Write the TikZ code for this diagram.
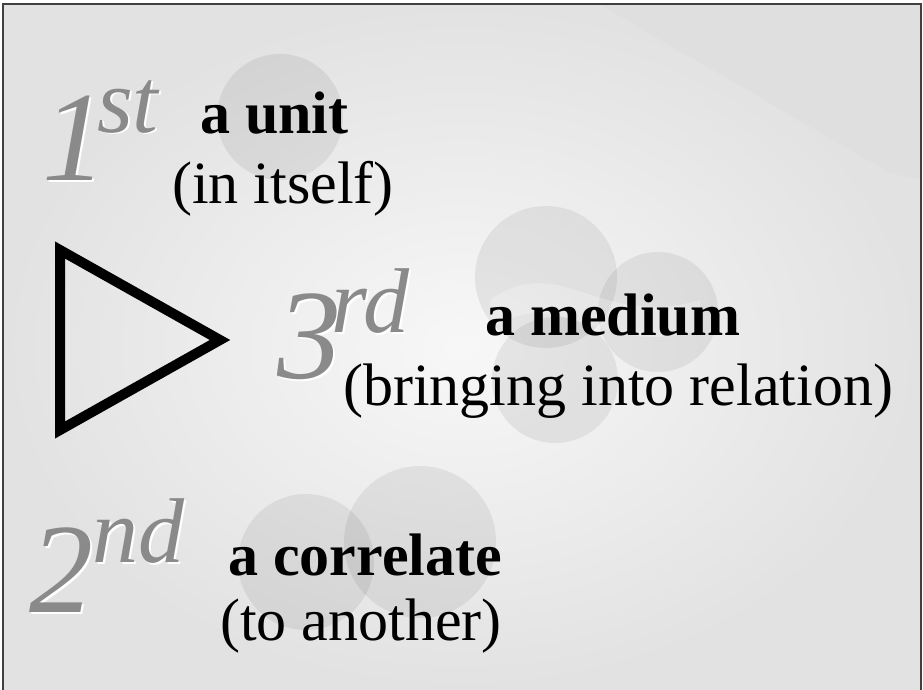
\documentclass[tikz,border=0pt]{standalone}
\usepackage{fontspec}
\setmainfont{Liberation Serif}
\usetikzlibrary{positioning}

\definecolor{ordgray}{HTML}{8A8A8A}
\definecolor{bgedge}{HTML}{E2E2E2}

\begin{document}
\begin{tikzpicture}[x=1pt, y=-1pt,
    ordnum/.style={font=\fontsize{128}{128}\selectfont\itshape, text=ordgray, anchor=base west, inner sep=0pt},
    ordsup/.style={font=\fontsize{92}{92}\selectfont\itshape, text=ordgray, anchor=base west, inner sep=0pt},
    ordglow/.style={text=white},
    headword/.style={font=\fontsize{60}{60}\selectfont\bfseries, anchor=base west, inner sep=0pt},
    gloss/.style={font=\fontsize{60}{60}\selectfont, anchor=base west, inner sep=0pt},
    blob/.style={fill=black, fill opacity=0.065}]
    \useasboundingbox (0,0) rectangle (923,690);

    % background
    \shade[inner color=white!97!black, outer color=bgedge] (3,4) rectangle (921,690);
    \fill[black, fill opacity=0.012] (600,4) -- (921,4) -- (921,180) -- (890,173) -- (643,30) -- cycle;
    \draw[line width=1.5pt, black!75] (3,690) -- (3,4) -- (921,4) -- (921,690);

    % faint discs
    \fill[blob] (280,117) circle (63);
    \fill[blob] (546,277) circle (71);
    \fill[blob] (658,312) circle (60);
    \fill[blob] (555,380) circle (63);
    \fill[white, fill opacity=0.25] (490,300) .. controls (560,250) and (600,330) .. (700,300)
        -- (700,330) .. controls (600,360) and (560,280) .. (490,330) -- cycle;
    \fill[blob] (420,542) circle (76);
    \fill[blob] (306,562) circle (68);

    % triangle
    \draw[line width=10pt, miter limit=10] (60,250) -- (220,340) -- (60,430) -- cycle;

    % 1st
    \node[ordnum, ordglow] (oneglow) at (44,182) {1};
    \node[ordnum] (one) at (42,180) {1};
    \node[ordsup, ordglow] (stglow) at (99,134) {st};
    \node[ordsup] (st) at (97,132) {st};
    \node[headword] (unit) at (200,133) {a unit};
    \node[gloss] (unitnote) at (172,203) {(in itself)};

    % 3rd
    \node[ordnum, ordglow] (threeglow) at (279,380) {3};
    \node[ordnum] (three) at (277,378) {3};
    \node[ordsup, ordglow] (rdglow) at (333,334) {rd};
    \node[ordsup] (rd) at (331,332) {rd};
    \node[headword] (medium) at (485,335) {a medium};
    \node[gloss] (mediumnote) at (343,405) {(bringing into relation)};

    % 2nd
    \node[ordnum, ordglow] (twoglow) at (31,614) {2};
    \node[ordnum] (two) at (29,612) {2};
    \node[ordsup, ordglow] (ndglow) at (94,564) {nd};
    \node[ordsup] (nd) at (92,562) {nd};
    \node[headword] (correlate) at (228,575) {a correlate};
    \node[gloss] (correlatenote) at (220,640) {(to another)};
\end{tikzpicture}
\end{document}
